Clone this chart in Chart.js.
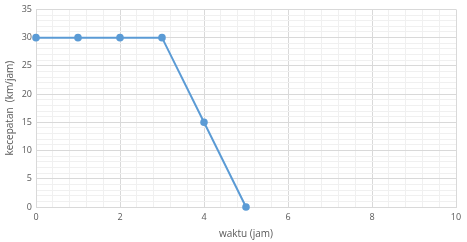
<!DOCTYPE html>
<html><head><meta charset="utf-8">
<script src="https://cdn.jsdelivr.net/npm/chart.js@4"></script>
<style>html,body{margin:0;padding:0;background:#fff}#w{width:467px;height:242px}</style>
</head><body><div id="w"><canvas id="c"></canvas></div>
<script>
const waktu = [0, 1, 2, 3, 4, 5];
const kecepatan = [30, 30, 30, 30, 15, 0];
const xMajor = [0, 2, 4, 6, 8, 10];
const yMajor = [0, 5, 10, 15, 20, 25, 30, 35];
const xTitle = 'waktu (jam)';
const yTitle = 'kecepatan  (km/jam)';

const isMajor = (v, list) => list.some(m => Math.abs(m - v) < 1e-6);
const font = {family: "'Open Sans', 'Liberation Sans', sans-serif", size: 9};
const labelColor = '#595959';

new Chart(document.getElementById('c'), {
  type: 'line',
  data: {
    datasets: [{
      data: waktu.map((x, i) => ({x, y: kecepatan[i]})),
      borderColor: '#5b9bd5',
      backgroundColor: '#5b9bd5',
      borderWidth: 2,
      pointRadius: 2.8,
      pointHoverRadius: 2.8,
      tension: 0,
      clip: false
    }]
  },
  options: {
    responsive: true,
    maintainAspectRatio: false,
    animation: false,
    layout: {padding: {top: 8, right: 11, left: 0, bottom: 0}},
    plugins: {legend: {display: false}, tooltip: {enabled: false}},
    scales: {
      x: {
        type: 'linear', min: 0, max: 10,
        afterFit: s => { s.height = 35; },
        ticks: {
          stepSize: 0.4, autoSkip: false, maxRotation: 0, padding: 5,
          color: labelColor, font,
          callback: v => isMajor(v, xMajor) ? String(Math.round(v)) : ''
        },
        grid: {
          drawTicks: false,
          color: c => isMajor(c.tick.value, xMajor) ? '#d9d9d9' : '#f0f0f0',
          lineWidth: 1
        },
        border: {display: true, color: '#d9d9d9'},
        title: {display: true, text: xTitle, color: labelColor,
          font: {family: font.family, size: 10}, padding: {top: 0, bottom: 2}}
      },
      y: {
        min: 0, max: 35,
        afterFit: s => { s.width = 36; },
        ticks: {
          stepSize: 1, autoSkip: false, padding: 4,
          color: labelColor, font,
          callback: v => isMajor(v, yMajor) ? String(Math.round(v)) : ''
        },
        grid: {
          drawTicks: false,
          color: c => isMajor(c.tick.value, yMajor) ? '#d9d9d9' : '#f0f0f0',
          lineWidth: 1
        },
        border: {display: true, color: '#d9d9d9'},
        title: {display: true, text: yTitle, color: labelColor,
          font: {family: font.family, size: 10}, padding: {top: 4, bottom: 0}}
      }
    }
  }
});
</script></body></html>
